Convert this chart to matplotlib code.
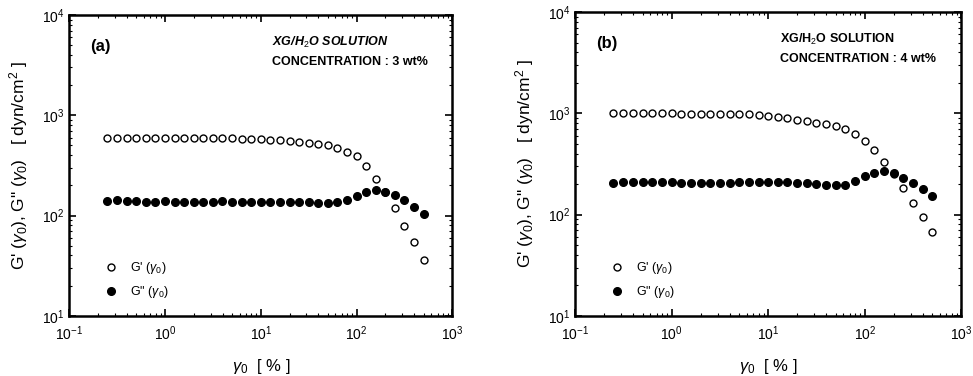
import matplotlib
matplotlib.use("Agg")
import matplotlib.pyplot as plt
from matplotlib.ticker import LogLocator

plt.rcParams["font.family"] = ["Liberation Sans", "DejaVu Sans"]
plt.rcParams["mathtext.fontset"] = "custom"
plt.rcParams["mathtext.rm"] = "Liberation Sans"
plt.rcParams["mathtext.it"] = "Liberation Sans:italic"
plt.rcParams["mathtext.bf"] = "Liberation Sans:bold"

# ---------------------------------
# Data
# ---------------------------------

strain = [0.25, 0.316, 0.398, 0.5, 0.631, 0.794, 1.0, 1.26, 1.58, 2.0, 2.51, 3.16,
          3.98, 5.0, 6.31, 7.94, 10, 12.6, 15.8, 20, 25.1, 31.6, 39.8, 50, 63.1,
          79.4, 100, 126, 158, 200, 251, 316, 398, 500]

g1_3wt = [595, 598, 600, 600, 598, 598, 598, 597, 597, 596, 594, 593,
          590, 588, 584, 580, 575, 570, 564, 555, 545, 535, 520, 500, 475,
          435, 390, 310, 230, 170, 118, 78, 54, 36]
g2_3wt = [140, 143, 140, 140, 138, 138, 139, 138, 138, 138, 138, 138,
          139, 138, 138, 138, 138, 138, 138, 138, 137, 136, 135, 135, 137,
          143, 155, 172, 180, 173, 162, 142, 122, 104]

g1_4wt = [1000, 1000, 1000, 1000, 1000, 1000, 1000, 995, 995, 995, 995, 992,
          990, 985, 978, 965, 945, 920, 890, 860, 835, 810, 780, 745, 695,
          625, 530, 435, 332, 250, 183, 130, 95, 68]
g2_4wt = [205, 212, 210, 210, 210, 208, 208, 205, 205, 206, 207, 207,
          207, 208, 208, 210, 210, 210, 208, 205, 203, 200, 197, 194, 198,
          213, 243, 258, 268, 256, 230, 206, 179, 154]

panels = ["(a)", "(b)"]
concs = ["3 wt%", "4 wt%"]
g1_all = [g1_3wt, g1_4wt]
g2_all = [g2_3wt, g2_4wt]

# ---------------------------------
# Figure
# ---------------------------------

fig = plt.figure(figsize=(9.73, 3.76), dpi=100)
rects = [[0.071, 0.160, 0.394, 0.800], [0.591, 0.160, 0.397, 0.808]]

for i in range(2):
    ax = fig.add_axes(rects[i])
    ax.set_xscale("log")
    ax.set_yscale("log")
    ax.set_xlim(0.1, 1000)
    ax.set_ylim(10, 10000)

    ax.plot(strain, g1_all[i], "o", ms=5, mfc="white", mec="black", mew=1.0,
            label=r"G' ($\gamma_0$)")
    ax.plot(strain, g2_all[i], "o", ms=5.5, mfc="black", mec="black",
            label=r'G" ($\gamma_0$)')

    ax.xaxis.set_major_locator(LogLocator(base=10, numticks=10))
    ax.yaxis.set_major_locator(LogLocator(base=10, numticks=10))
    ax.xaxis.set_minor_locator(LogLocator(base=10, subs=range(2, 10), numticks=20))
    ax.yaxis.set_minor_locator(LogLocator(base=10, subs=range(2, 10), numticks=20))
    ax.tick_params(which="both", direction="in", top=True, right=True, labelsize=10)
    ax.tick_params(which="major", length=5, width=1.2)
    ax.tick_params(which="minor", length=2.5, width=0.8)
    ax.tick_params(axis="x", pad=6)
    for sp in ax.spines.values():
        sp.set_linewidth(1.8)

    ax.set_xlabel(r"$\gamma_0$  [ % ]", fontsize=12, labelpad=10)
    ax.set_ylabel(r"G' ($\gamma_0$), G" + '"' + r" ($\gamma_0$)   [ dyn/cm$^2$ ]",
                  fontsize=12.5, labelpad=8)

    ax.text(0.055, 0.895, panels[i], transform=ax.transAxes, fontsize=12,
            fontweight="bold", ha="left", va="center")
    ax.text(0.53, 0.91, r"XG/H$_2$O SOLUTION", transform=ax.transAxes,
            fontsize=9, fontweight="bold", style="italic" if i == 0 else "normal",
            ha="left", va="center")
    ax.text(0.53, 0.845, "CONCENTRATION : " + concs[i], transform=ax.transAxes,
            fontsize=9, fontweight="bold", ha="left", va="center")

    ax.legend(loc="lower left", bbox_to_anchor=(0.06, 0.015), frameon=False,
              fontsize=9, handletextpad=0.9, labelspacing=0.65, handlelength=1.2)

fig.savefig("out.png", dpi=100)
